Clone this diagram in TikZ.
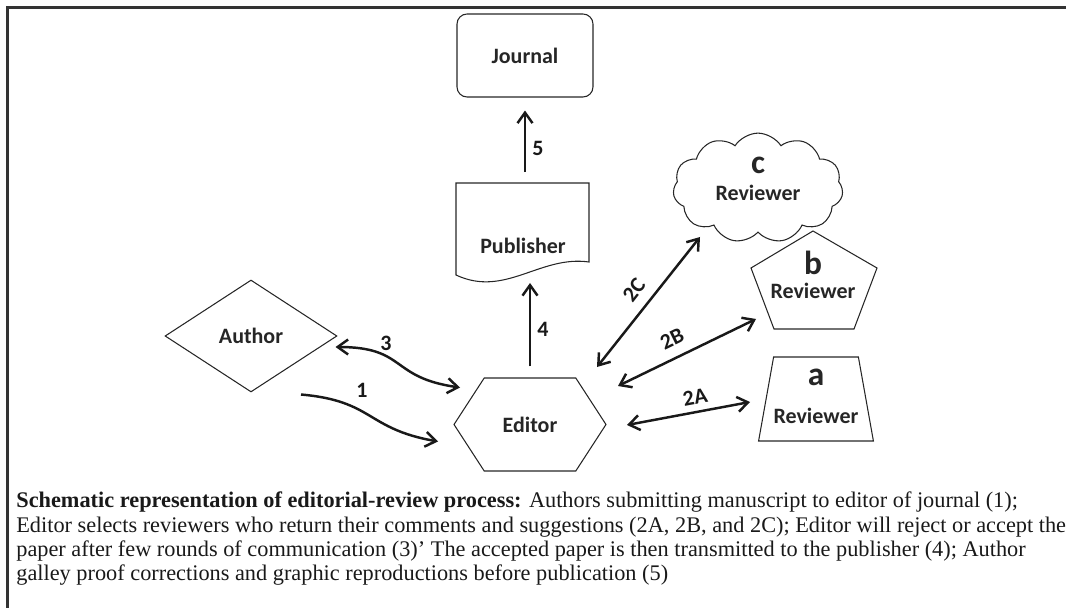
\documentclass[tikz,border=0pt]{standalone}
\usepackage{fontspec}
\setmainfont{Liberation Serif}
\newfontfamily\calibfont{Carlito}
\usetikzlibrary{arrows.meta,shapes.geometric,shapes.symbols,calc}

\newcommand{\revletter}[1]{{\fontsize{19}{19}\selectfont #1}}

\tikzset{
    outline/.style={draw=black!85, line width=0.6pt},
    boxtext/.style={font=\calibfont\bfseries\fontsize{12.5}{14}\selectfont, text=black!85, align=center, inner sep=0pt},
    numlabel/.style={font=\calibfont\bfseries\fontsize{12.5}{14}\selectfont, text=black!90, inner sep=0pt},
    flow/.style={line width=1.4pt, black!90, -{Straight Barb[length=2.1mm,width=3mm]}},
    twoway/.style={line width=1.4pt, black!90, {Straight Barb[length=2.1mm,width=3mm]}-{Straight Barb[length=2.1mm,width=3mm]}},
    captext/.style={font=\fontsize{12.7}{13.6}\selectfont, text=black!90, anchor=base west, inner sep=0pt},
}

\begin{document}
\begin{tikzpicture}[x=0.02cm, y=-0.02cm]
    \useasboundingbox (0,0) rectangle (1066,608);
    \draw[line width=1.8pt, black!80] (7.5,615) -- (7.5,7.5) -- (1075,7.5);

    % boxes
    \node[outline, boxtext, rounded corners=0.2cm, minimum width=2.72cm, minimum height=1.66cm] (journal) at (525,55.5) {Journal};
    \node[boxtext] (pub) at (523,246) {Publisher};
    \draw[outline] ($(pub)+(-67,-63)$) -- ($(pub)+(66,-63)$) -- ($(pub)+(66,16)$)
        .. controls ($(pub)+(17,9)$) and ($(pub)+(-18,52)$) .. ($(pub)+(-67,29)$) -- cycle;
    \coordinate (pubtop) at ($(pub)+(2,-63)$);
    \coordinate (pubbot) at ($(pub)+(7,27)$);

    \node[outline, boxtext, signal, signal to=east and west, signal pointer angle=114,
          minimum width=3.04cm, minimum height=1.86cm] (editor) at (530,424.5) {Editor};
    \node[outline, boxtext, diamond, aspect=1.54, minimum width=3.44cm, minimum height=2.24cm] (author) at (251,336) {Author};

    \node[outline, boxtext, trapezium, trapezium angle=76, trapezium stretches=true,
          minimum width=2.24cm, minimum height=1.68cm, text depth=3.4pt] (reva) at (816,399) {\revletter{a}\\[7.5pt]Reviewer};
    \node[boxtext] (revb) at (813,275) {\revletter{b}\\[-0.4pt]Reviewer};
    \draw[outline] ($(revb)+(0,-44)$) -- ($(revb)+(64,-7)$) -- ($(revb)+(41,54)$)
        -- ($(revb)+(-39,54)$) -- ($(revb)+(-62,-7)$) -- cycle;
    \node[outline, boxtext, cloud, cloud puffs=11, cloud puff arc=115, aspect=1.85, minimum width=3.14cm, minimum height=1.7cm,
          text depth=10.8pt] (revc) at (758,188) {\revletter{c}\\[1.3pt]Reviewer};

    % connectors
    \draw[flow, shorten <=0.22cm, shorten >=0.26cm] (pubtop) -- (journal.south);
    \draw[flow, shorten <=0.22cm, shorten >=0.2cm] (editor.north) -- (pubbot);
    \draw[twoway] ($(author.east)+(-2,11)$) to[out=0, in=172, looseness=1.4] ($(editor)+(-70,-37)$);
    \draw[flow] ($(author.south)+(50,2)$) to[out=-5, in=170, looseness=1.3] ($(editor)+(-92,17)$);
    \draw[twoway] ($(editor)+(97,0.5)$) -- ($(reva)+(-66,3)$);
    \draw[twoway] ($(editor)+(88,-38.5)$) -- ($(revb)+(-57,44)$);
    \draw[twoway] ($(editor)+(67,-57.5)$) -- ($(revc)+(-58,49)$);

    % labels
    \node[numlabel] (l5) at (538,148) {5};
    \node[numlabel] (l4) at (543,329) {4};
    \node[numlabel] (l3) at (386,343) {3};
    \node[numlabel] (l1) at (362,390) {1};
    \node[numlabel, rotate=10.6] (l2a) at (695,397) {2A};
    \node[numlabel, rotate=26] (l2b) at (672,339) {2B};
    \node[numlabel, rotate=52] (l2c) at (634,290) {2C};

    % caption
    \node[captext] (cap1) at (16,507) {\textbf{Schematic representation of editorial-review process:} Authors submitting manuscript to editor of journal (1);};
    \node[captext] (cap2) at (16,532) {Editor selects reviewers who return their comments and suggestions (2A, 2B, and 2C); Editor will reject or accept the};
    \node[captext] (cap3) at (16,556) {paper after few rounds of communication (3)’ The accepted paper is then transmitted to the publisher (4); Author};
    \node[captext] (cap4) at (16,580) {galley proof corrections and graphic reproductions before publication (5)};
\end{tikzpicture}
\end{document}
